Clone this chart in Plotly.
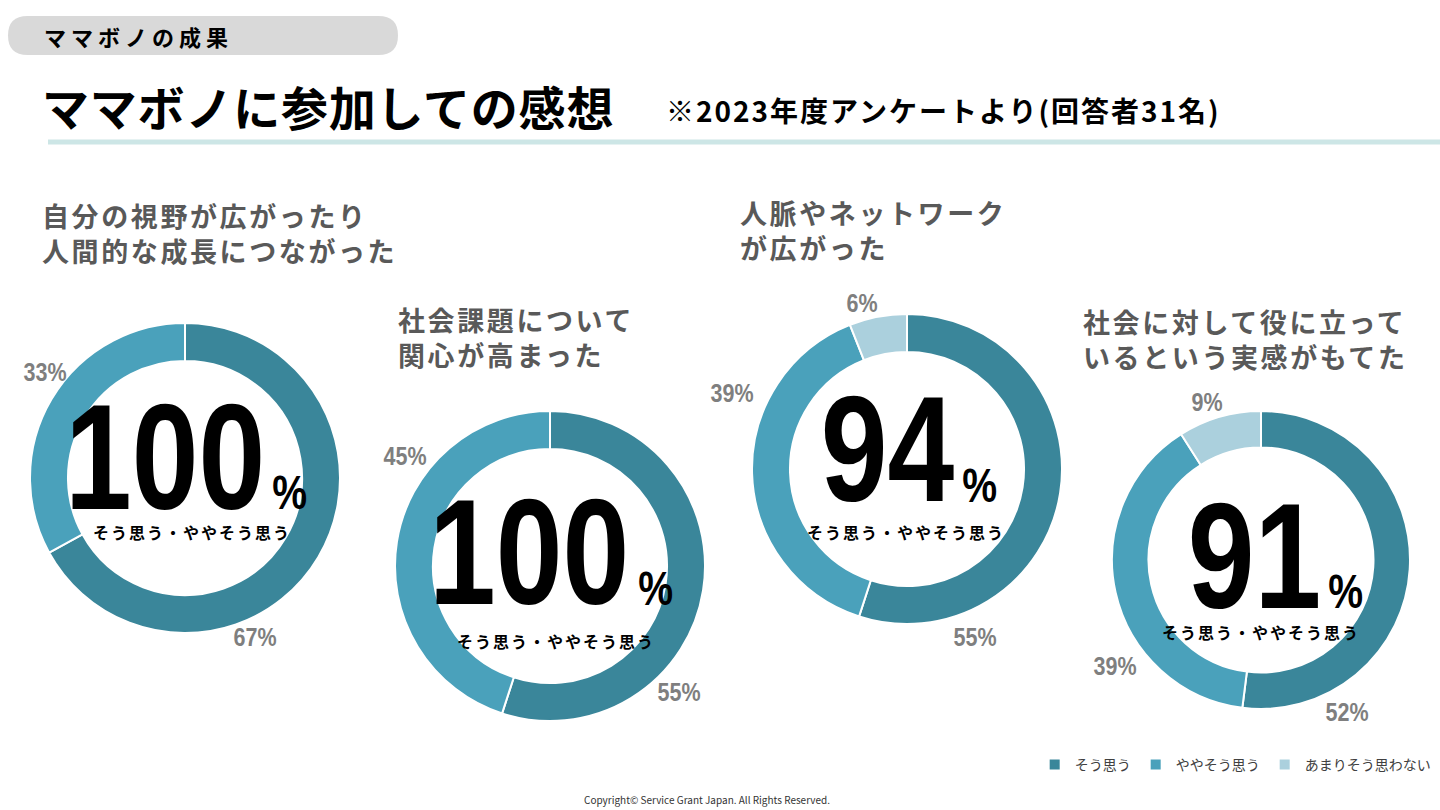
import json
import plotly.graph_objects as go

# ---------------------------------------------------------
# Data
# ---------------------------------------------------------
categories = ["そう思う", "ややそう思う", "あまりそう思わない"]
questions = [
    "自分の視野が広がったり<br>人間的な成長につながった",
    "社会課題について<br>関心が高まった",
    "人脈やネットワーク<br>が広がった",
    "社会に対して役に立って<br>いるという実感がもてた",
]
agree = [67, 55, 55, 52]
somewhat_agree = [33, 45, 39, 39]
not_really = [0, 0, 6, 9]
positive_total = [100, 100, 94, 91]

colors = ["#3A869A", "#4AA1BB", "#ABD0DD"]

W, H = 1440, 810
NARROW = "Liberation Sans Narrow, Arial Narrow, Liberation Sans"
JP = "Noto Sans CJK JP"


def px(x, y):
    # pixel -> paper coords
    return x / W, 1 - y / H


# ---------------------------------------------------------
# Layout positions (pixels)
# ---------------------------------------------------------
donut_boxes = [  # left, top, size
    (30, 323, 310),
    (395, 411, 310),
    (752, 314, 310),
    (1112, 411, 298),
]
title_pos = [(40, 233), (396, 337), (738, 230), (1081, 339)]
big_pos = [(165, 457), (529, 552), (887, 449), (1254, 556)]
pct_pos = [(290, 492), (656, 588), (980, 485), (1346, 591)]
sub_pos = [(192, 532), (556, 641), (906, 532), (1261, 632)]
# slice label positions: [agree, somewhat, not_really]
label_pos = [
    [(255, 637), (45, 372), None],
    [(679, 692), (405, 456), None],
    [(975, 637), (732, 393), (862, 303)],
    [(1347, 712), (1115, 666), (1207, 402)],
]

fig = go.Figure()

for i in range(len(questions)):
    left, top, size = donut_boxes[i]
    x0, y1 = px(left, top)
    x1, y0 = px(left + size, top + size)
    fig.add_trace(
        go.Pie(
            labels=categories,
            values=[agree[i], somewhat_agree[i], not_really[i]],
            hole=0.755,
            sort=False,
            direction="clockwise",
            rotation=0,
            marker=dict(colors=colors, line=dict(color="white", width=2)),
            textinfo="none",
            hovertemplate="%{label}: %{value}%<extra></extra>",
            domain=dict(x=[x0, x1], y=[y0, y1]),
            showlegend=(i == 2),
        )
    )

annotations = []
extra_style = {}  # annotation index -> css tweaks applied after render


def add_text(x, y, text, font, xanchor="center", ls=None, sx=None):
    a, b = px(x, y)
    if ls or sx:
        extra_style[len(annotations)] = {"ls": ls, "sx": sx, "c": xanchor == "center"}
    annotations.append(dict(
        x=a, y=b, xref="paper", yref="paper", text=text, showarrow=False,
        xanchor=xanchor, yanchor="middle", align="left", font=font,
    ))


# question titles
for i, q in enumerate(questions):
    add_text(*title_pos[i], q, dict(family=JP, size=27, color="#595959", weight="bold"),
             xanchor="left", ls=2.6)

# big centre numbers
for i, v in enumerate(positive_total):
    add_text(*big_pos[i], str(v), dict(family=NARROW, size=150, color="#000000", weight="bold"), sx=0.8)
    add_text(*pct_pos[i], "%", dict(family=NARROW, size=49, color="#000000", weight="bold"), sx=0.8)
    add_text(*sub_pos[i], "そう思う・ややそう思う",
             dict(family=JP, size=16, color="#000000", weight="bold"), ls=2)

# slice percentage labels
for i in range(len(questions)):
    vals = [agree[i], somewhat_agree[i], not_really[i]]
    for k, v in enumerate(vals):
        if v == 0 or label_pos[i][k] is None:
            continue
        add_text(*label_pos[i][k], f"{v}%",
                 dict(family=NARROW, size=25, color="#7F7F7F", weight="bold"), sx=0.86)

# header texts
add_text(42, 36, "ママボノの成果", dict(family=JP, size=22, color="#000000", weight="bold"),
         xanchor="left", ls=5)
add_text(40, 105, "ママボノに参加しての感想", dict(family=JP, size=47, color="#000000", weight="bold"),
         xanchor="left", ls=0.8)
add_text(664, 110, "※2023年度アンケートより(回答者31名)",
         dict(family=JP, size=28, color="#000000", weight="bold"), xanchor="left", ls=2)
add_text(707, 799, "Copyright© Service Grant Japan. All Rights Reserved.",
         dict(family=JP, size=10, color="#333333"))

# ---------------------------------------------------------
# Shapes: header pill + teal rule
# ---------------------------------------------------------
pl, pt, pr, pb, rad = 8, 16, 398, 55, 19.5


def P(x, y):
    a, b = px(x, y)
    return f"{a:.5f},{b:.5f}"


pill_path = (
    f"M {P(pl + rad, pt)} L {P(pr - rad, pt)} "
    f"Q {P(pr, pt)} {P(pr, pt + rad)} Q {P(pr, pb)} {P(pr - rad, pb)} "
    f"L {P(pl + rad, pb)} Q {P(pl, pb)} {P(pl, pt + rad)} Q {P(pl, pt)} {P(pl + rad, pt)} Z"
)

lx0, ly = px(48, 142)
lx1, _ = px(1440, 142)

fig.update_layout(
    shapes=[
        dict(type="path", xref="paper", yref="paper", path=pill_path,
             fillcolor="#D9D9D9", line=dict(width=0), layer="below"),
        dict(type="line", xref="paper", yref="paper", x0=lx0, x1=lx1, y0=ly, y1=ly,
             line=dict(color="#CDE6E6", width=5)),
    ],
    annotations=annotations,
    legend=dict(
        orientation="h", x=0.997, xanchor="right", y=1 - 765 / H, yanchor="middle",
        font=dict(family=JP, size=14, color="#404040"),
        traceorder="normal", itemwidth=30,
    ),
    width=W, height=H,
    margin=dict(l=0, r=0, t=0, b=0),
    paper_bgcolor="white",
    plot_bgcolor="white",
)

# no page margin; letter spacing / narrow digits like the slide fonts
post_js = """
document.body.style.margin = '0';
var gd = document.getElementById('{plot_id}');
var cfg = CFG;
gd.querySelectorAll('g.annotation').forEach(function (g) {
  var c = cfg[g.getAttribute('data-index')];
  if (!c) return;
  var t = g.querySelector('text.annotation-text');
  if (!t) return;
  var w0 = t.getBBox().width;
  if (c.ls) t.style.letterSpacing = c.ls + 'px';
  if (c.sx) {
    var L = t.getComputedTextLength();
    t.setAttribute('textLength', L * c.sx);
    t.setAttribute('lengthAdjust', 'spacingAndGlyphs');
  }
  if (c.c) {
    var w1 = t.getBBox().width;
    t.setAttribute('transform', 'translate(' + ((w0 - w1) / 2) + ',0)');
  }
});
""".replace("CFG", json.dumps(extra_style))

fig.write_html("out.html", post_script=post_js, config={"displayModeBar": False})
